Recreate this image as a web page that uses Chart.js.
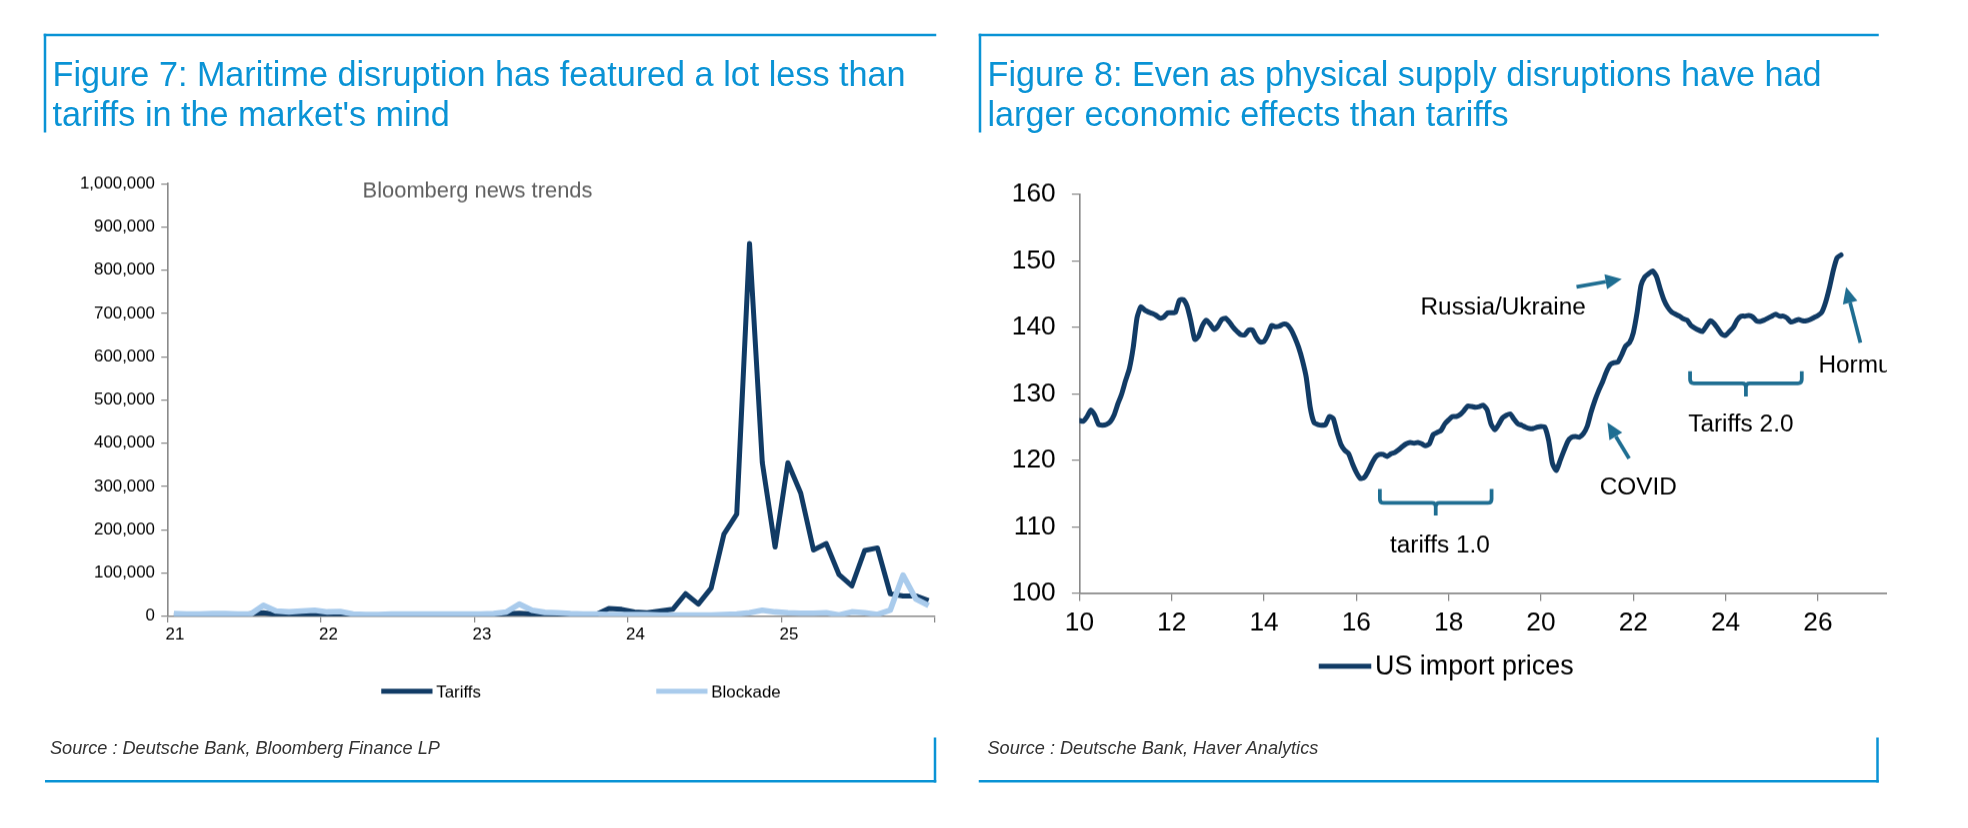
<!DOCTYPE html>
<html><head><meta charset="utf-8">
<script src="https://cdn.jsdelivr.net/npm/chart.js@4.4.0/dist/chart.umd.min.js"></script>
<style>
html,body{margin:0;padding:0;background:#fff;width:1968px;height:828px;overflow:hidden;}
#page{position:absolute;left:0;top:0;width:1574.4px;height:662.4px;transform:scale(1.25);transform-origin:0 0;}
.rule{position:absolute;background:#0A93D5;}
.title{position:absolute;font-family:"Liberation Sans",Arial,sans-serif;font-size:27.35px;line-height:31.5px;color:#0A93D5;white-space:nowrap;}
.src{position:absolute;font-family:"Liberation Sans",Arial,sans-serif;font-style:italic;font-size:14.5px;line-height:16px;color:#333;white-space:nowrap;}
.wrap{position:absolute;top:130px;height:460px;overflow:hidden;}
</style></head><body>
<div id="page">
<!-- panel frames -->
<div class="rule" style="left:35px;top:27px;width:714px;height:2px"></div>
<div class="rule" style="left:35px;top:27px;width:2px;height:79px"></div>
<div class="rule" style="left:783px;top:27px;width:720px;height:2px"></div>
<div class="rule" style="left:783px;top:27px;width:2px;height:79px"></div>
<div class="rule" style="left:36px;top:624px;width:713px;height:2px"></div>
<div class="rule" style="left:747px;top:590px;width:2px;height:36px"></div>
<div class="rule" style="left:783px;top:624px;width:720px;height:2px"></div>
<div class="rule" style="left:1501px;top:590px;width:2px;height:36px"></div>

<div class="title" style="left:42px;top:44px">Figure 7: Maritime disruption has featured a lot less than<br>tariffs in the market's mind</div>
<div class="title" style="left:790px;top:44px">Figure 8: Even as physical supply disruptions have had<br>larger economic effects than tariffs</div>

<div class="wrap" style="left:0px;width:760px"><canvas id="c1" width="760" height="460" style="width:760px;height:460px"></canvas></div>
<div class="wrap" style="left:760px;width:749px"><canvas id="c2" width="800" height="460" style="width:800px;height:460px"></canvas></div>

<div class="src" style="left:40px;top:590px">Source : Deutsche Bank, Bloomberg Finance LP</div>
<div class="src" style="left:790px;top:590px">Source : Deutsche Bank, Haver Analytics</div>
</div>

<script>
// ---------------- DATA ----------------
// Figure 7: monthly, Jan 2021 .. Dec 2025 (Bloomberg news trends)
const fig7FirstYear = 21;
const fig7Tariffs = [
  2, 2, 4, 5, 5, 3, 6, 8, 4, 3, 4, 5,
  3, 2, 1, 1, 2, 2, 2, 2, 2, 3, 2, 2,
  2, 3, 6, 7, 5, 3, 2, 2, 3, 4, 18, 16,
  10, 8, 12, 16, 52, 28, 65, 190, 236, 862, 355, 160,
  355, 285, 153, 168, 96, 70, 152, 158, 52, 47, 47, 36
].map(v => v * 1000);
const fig7Blockade = [
  6, 5, 5, 6, 6, 5, 5, 25, 12, 10, 12, 14,
  10, 11, 5, 4, 4, 5, 5, 5, 5, 5, 5, 5,
  5, 6, 10, 28, 14, 9, 8, 6, 5, 5, 4, 4,
  4, 4, 3, 3, 3, 3, 3, 4, 5, 8, 14, 10,
  8, 7, 7, 8, 3, 10, 8, 4, 14, 95, 40, 25
].map(v => v * 1000);
const fig7XTickLabels = ['21', '22', '23', '24', '25'];
const fig7SeriesNames = ['Tariffs', 'Blockade'];

// Figure 8: monthly, Jan 2010 .. Jul 2026 (US import prices)
const fig8FirstYear = 10;
const fig8ImportPrices = [
  126.0, 125.9, 126.6, 127.6, 126.8, 125.4, 125.3, 125.4, 125.8, 126.8, 128.5, 130.0,
  132.0, 133.8, 137.0, 141.5, 143.1, 142.6, 142.3, 142.1, 141.8, 141.4, 141.6, 142.2,
  142.2, 142.3, 144.1, 144.2, 143.2, 140.9, 138.2, 138.7, 140.3, 141.1, 140.5, 139.7,
  140.2, 141.2, 141.4, 140.8, 140.0, 139.4, 138.9, 138.9, 139.6, 139.6, 138.5, 137.8,
  137.9, 138.9, 140.3, 140.1, 140.2, 140.5, 140.4, 139.7, 138.5, 137.0, 135.0, 132.4,
  128.0, 125.7, 125.4, 125.3, 125.4, 126.6, 126.3, 124.2, 122.4, 121.5, 121.0, 119.5,
  118.2, 117.3, 117.4, 118.3, 119.5, 120.5, 120.9, 120.9, 120.6, 121.0, 121.2, 121.6,
  122.1, 122.5, 122.7, 122.6, 122.7, 122.5, 122.2, 122.5, 123.9, 124.2, 124.5, 125.5,
  126.1, 126.6, 126.6, 126.9, 127.5, 128.2, 128.1, 128.0, 128.1, 128.3, 127.6, 125.5,
  124.6, 125.4, 126.4, 126.8, 127.0, 126.2, 125.5, 125.3, 125.0, 124.8, 124.8, 125.0,
  125.1, 125.0, 123.0, 119.5, 118.5, 120.0, 121.5, 122.9, 123.5, 123.6, 123.5, 124.0,
  125.1, 127.2, 129.0, 130.5, 131.8, 133.3, 134.4, 134.7, 134.8, 135.9, 137.2, 137.7,
  139.2, 142.3, 146.3, 147.6, 148.1, 148.5, 147.7, 145.8, 144.1, 143.0, 142.3, 142.0,
  141.7, 141.3, 141.1, 140.3, 139.9, 139.6, 139.4, 140.2, 141.0, 140.6, 139.8, 139.0,
  138.8, 139.4, 140.0, 141.1, 141.7, 141.7, 141.8, 141.6, 141.0, 140.9, 141.1, 141.4,
  141.7, 142.0, 141.7, 141.7, 141.4, 140.8, 141.0, 141.2, 141.0, 141.0, 141.2, 141.5,
  141.8, 142.3, 143.8, 146.0, 148.6, 150.5, 150.9
];
const fig8XTickLabels = ['10', '12', '14', '16', '18', '20', '22', '24', '26'];
const fig8SeriesName = 'US import prices';

// annotations of Figure 8 (text + anchor in data units)
const fig8Notes = [
  {text: 'Russia/Ukraine', x: 19.18, y: 142.0},
  {text: 'COVID', x: 22.11, y: 114.8},
  {text: 'Tariffs 2.0', x: 24.33, y: 124.4},
  {text: 'tariffs 1.0', x: 17.81, y: 106.2},
  {text: 'Hormuz', x: 26.01, y: 133.2, align: 'left'}
];
const fig8Arrows = [
  {from: [20.77, 146.1], to: [21.75, 147.3]},
  {from: [21.91, 120.3], to: [21.44, 125.7]},
  {from: [26.92, 137.7], to: [26.61, 146.1]}
];
const fig8Braces = [
  {x0: 16.51, x1: 18.93, top: 115.7, bar: 113.6, tip: 111.7},
  {x0: 23.23, x1: 25.65, top: 133.4, bar: 131.6, tip: 129.6}
];

// ---------------- STYLE ----------------
const FONT = '"Liberation Sans", Arial, sans-serif';
const AXIS = '#8a8a8a';
const NAVY = '#113B65';
const LIGHT = '#A9CBEC';
const TEAL = '#1F6E92';
const DPR = 1.25;

// custom legend / subtitle plugin (draws dataset label + colour sample)
const sideText = {
  id: 'sideText',
  afterDraw(chart, args, opts) {
    const ctx = chart.ctx;
    ctx.save();
    if (opts.subtitle) {
      const s = opts.subtitle;
      ctx.font = s.size + 'px ' + FONT;
      ctx.fillStyle = s.color;
      ctx.textAlign = 'center';
      ctx.textBaseline = 'middle';
      ctx.fillText(s.text, s.x, s.y);
    }
    (opts.legend || []).forEach((it) => {
      const ds = chart.data.datasets[it.index];
      ctx.strokeStyle = ds.borderColor;
      ctx.lineWidth = it.lw;
      ctx.lineCap = 'butt';
      ctx.beginPath();
      ctx.moveTo(it.x, it.y);
      ctx.lineTo(it.x + it.w, it.y);
      ctx.stroke();
      ctx.font = it.size + 'px ' + FONT;
      ctx.fillStyle = '#000';
      ctx.textAlign = 'left';
      ctx.textBaseline = 'middle';
      ctx.fillText(ds.label, it.x + it.w + 3, it.y + 1);
    });
    ctx.restore();
  }
};

// annotation plugin for Figure 8 (positions through the chart scales)
const notesPlugin = {
  id: 'notes',
  afterDatasetsDraw(chart, args, opts) {
    if (!opts.enabled) return;
    const ctx = chart.ctx, xs = chart.scales.x, ys = chart.scales.y;
    const X = v => xs.getPixelForValue(v), Y = v => ys.getPixelForValue(v);
    ctx.save();
    ctx.strokeStyle = TEAL; ctx.fillStyle = TEAL;
    ctx.lineWidth = 3; ctx.lineJoin = 'round'; ctx.lineCap = 'butt';
    fig8Braces.forEach(b => {
      const l = X(b.x0), r = X(b.x1), m = (l + r) / 2;
      const t = Y(b.top), h = Y(b.bar), tp = Y(b.tip), rad = 3;
      ctx.beginPath();
      ctx.moveTo(l, t);
      ctx.lineTo(l, h - rad);
      ctx.quadraticCurveTo(l, h, l + rad, h);
      ctx.lineTo(m - rad, h);
      ctx.quadraticCurveTo(m, h, m, h + rad);
      ctx.lineTo(m, tp);
      ctx.moveTo(m, h + rad);
      ctx.quadraticCurveTo(m, h, m + rad, h);
      ctx.lineTo(r - rad, h);
      ctx.quadraticCurveTo(r, h, r, h - rad);
      ctx.lineTo(r, t);
      ctx.stroke();
    });
    fig8Arrows.forEach(a => {
      const x0 = X(a.from[0]), y0 = Y(a.from[1]), x1 = X(a.to[0]), y1 = Y(a.to[1]);
      const ang = Math.atan2(y1 - y0, x1 - x0), hl = 13, hw = 6;
      const bx = x1 - hl * Math.cos(ang), by = y1 - hl * Math.sin(ang);
      ctx.beginPath();
      ctx.moveTo(x0, y0); ctx.lineTo(bx, by); ctx.stroke();
      ctx.beginPath();
      ctx.moveTo(x1, y1);
      ctx.lineTo(bx + hw * Math.sin(ang), by - hw * Math.cos(ang));
      ctx.lineTo(bx - hw * Math.sin(ang), by + hw * Math.cos(ang));
      ctx.closePath(); ctx.fill();
    });
    ctx.fillStyle = '#000';
    ctx.font = '19.5px ' + FONT;
    ctx.textBaseline = 'alphabetic';
    fig8Notes.forEach(n => {
      ctx.textAlign = n.align || 'center';
      ctx.fillText(n.text, X(n.x), Y(n.y));
    });
    ctx.restore();
  }
};

Chart.register(sideText, notesPlugin);

// ---------------- FIGURE 7 ----------------
const toPoints7 = arr => arr.map((v, i) => ({x: fig7FirstYear + (i + 0.5) / 12, y: v}));
new Chart(document.getElementById('c1'), {
  type: 'line',
  data: {datasets: [
    {label: fig7SeriesNames[0], data: toPoints7(fig7Tariffs), borderColor: NAVY, borderWidth: 4,
     pointRadius: 0, tension: 0, order: 1, borderJoinStyle: 'round'},
    {label: fig7SeriesNames[1], data: toPoints7(fig7Blockade), borderColor: LIGHT, borderWidth: 4.5,
     pointRadius: 0, tension: 0, order: 0, borderJoinStyle: 'round'}
  ]},
  options: {
    responsive: false, animation: false, devicePixelRatio: DPR,
    layout: {padding: {left: 0, right: 12, top: 17, bottom: 67}},
    plugins: {
      legend: {display: false}, tooltip: {enabled: false},
      sideText: {
        subtitle: {text: 'Bloomberg news trends', x: 382, y: 23, size: 17.5, color: '#5f5f5f'},
        legend: [
          {index: 0, x: 305, y: 423, w: 41, lw: 4, size: 13.5},
          {index: 1, x: 525, y: 423, w: 41, lw: 4, size: 13.5}
        ]
      },
      notes: {enabled: false}
    },
    scales: {
      x: {
        type: 'linear', min: 21, max: 26,
        afterFit(s) { s.height = 30; },
        ticks: {stepSize: 1, autoSkip: false, maxRotation: 0, padding: 2, labelOffset: 6,
          color: '#000', font: {family: FONT, size: 13.5},
          callback: v => fig7XTickLabels[v - fig7FirstYear] || ''},
        grid: {drawOnChartArea: false, drawTicks: true, tickLength: 5, color: AXIS, lineWidth: 1},
        border: {display: true, color: AXIS, width: 1.3}
      },
      y: {
        min: 0, max: 1000000,
        afterFit(s) { s.width = 134; },
        ticks: {stepSize: 100000, padding: 5, color: '#000', font: {family: FONT, size: 13.5},
          callback: v => v.toLocaleString('en-US')},
        grid: {drawOnChartArea: false, drawTicks: true, tickLength: 5, color: AXIS, lineWidth: 1},
        border: {display: true, color: AXIS, width: 1.3}
      }
    }
  }
});

// ---------------- FIGURE 8 ----------------
new Chart(document.getElementById('c2'), {
  type: 'line',
  data: {datasets: [
    {label: fig8SeriesName, data: fig8ImportPrices.map((v, i) => ({x: fig8FirstYear + i / 12, y: v})),
     borderColor: NAVY, borderWidth: 4, pointRadius: 0, tension: 0.2, borderJoinStyle: 'round', borderCapStyle: 'round'}
  ]},
  options: {
    responsive: false, animation: false, devicePixelRatio: DPR,
    layout: {padding: {left: 0, right: 31.8, top: 20.7, bottom: 80.3}},
    plugins: {
      legend: {display: false}, tooltip: {enabled: false},
      sideText: {legend: [{index: 0, x: 295, y: 403, w: 42, lw: 4, size: 21.5}]},
      notes: {enabled: true}
    },
    scales: {
      x: {
        type: 'linear', min: 10, max: 28,
        afterFit(s) { s.height = 35; },
        ticks: {stepSize: 2, autoSkip: false, maxRotation: 0, padding: 5, color: '#000',
          font: {family: FONT, size: 21},
          callback: v => fig8XTickLabels[(v - fig8FirstYear) / 2] || ''},
        grid: {drawOnChartArea: false, drawTicks: true, tickLength: 6, color: AXIS, lineWidth: 1},
        border: {display: true, color: AXIS, width: 1.3}
      },
      y: {
        min: 100, max: 160,
        afterFit(s) { s.width = 103.5; },
        ticks: {stepSize: 10, padding: 13, color: '#000', font: {family: FONT, size: 21}},
        grid: {drawOnChartArea: false, drawTicks: true, tickLength: 6, color: AXIS, lineWidth: 1},
        border: {display: true, color: AXIS, width: 1.3}
      }
    }
  }
});
</script>
</body></html>
